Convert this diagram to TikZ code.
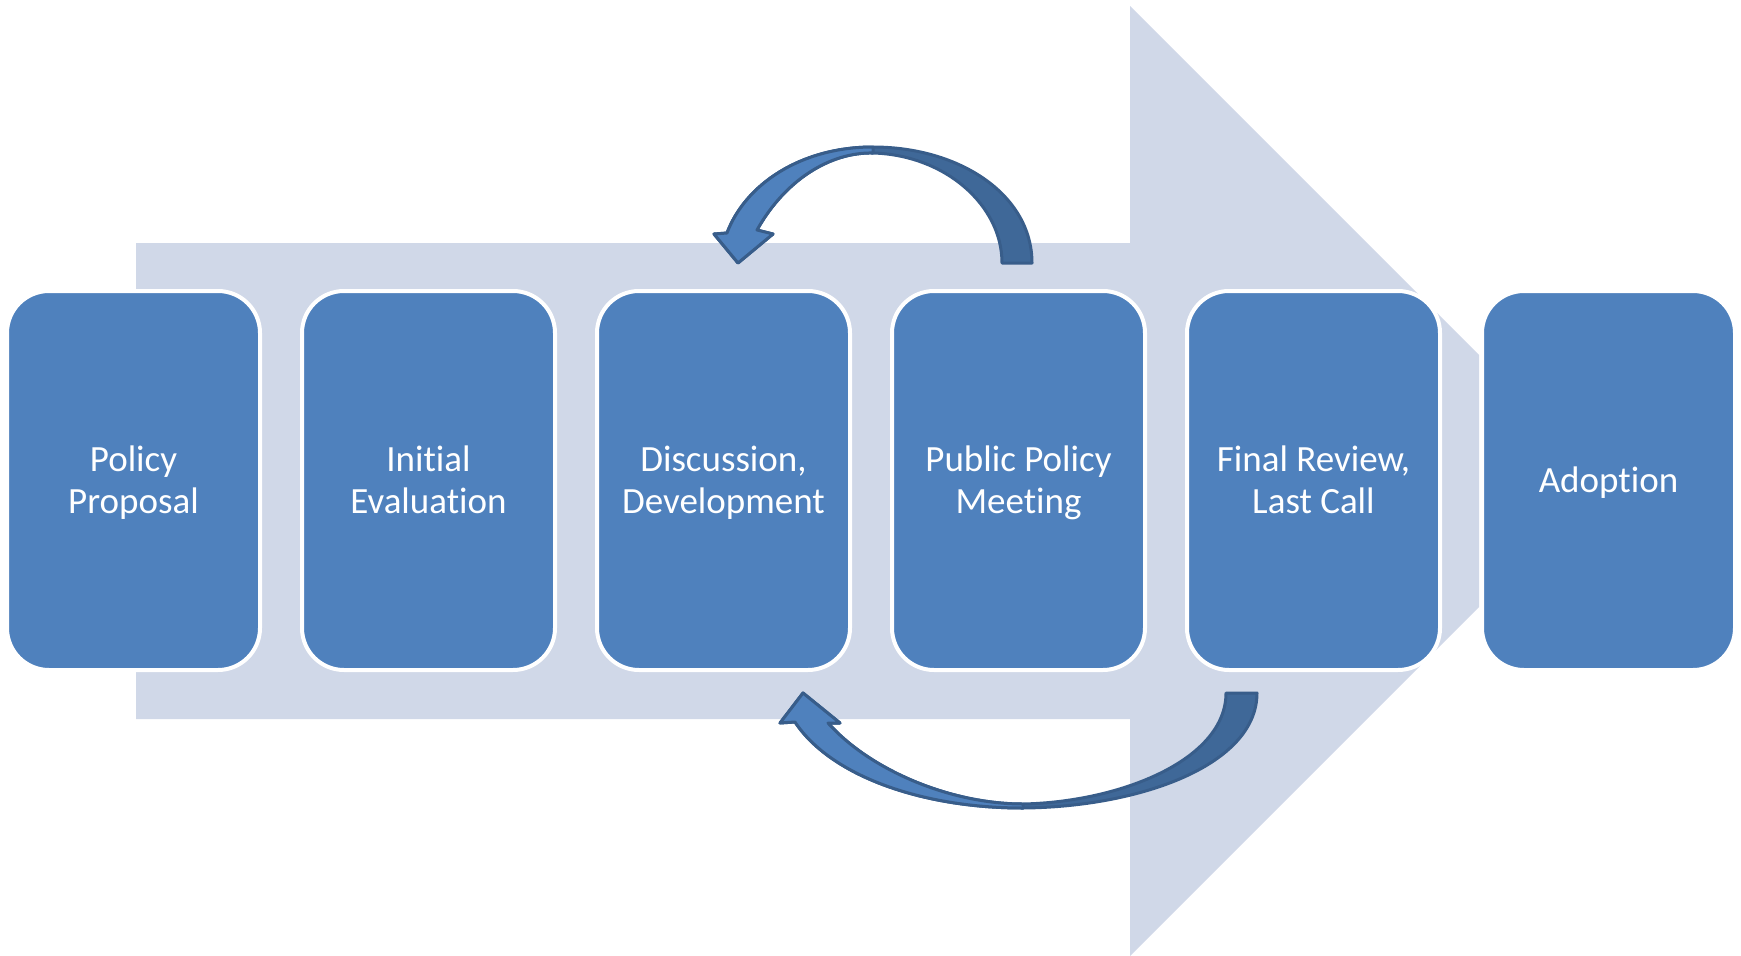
\documentclass[tikz,border=0pt]{standalone}
\usepackage{fontspec}
\setmainfont[Ligatures=NoCommon]{Carlito}
\usepackage{tikz}
\usetikzlibrary{arrows,positioning,shapes.geometric}
\definecolor{stepblue}{HTML}{4F81BD}
\definecolor{flowgray}{HTML}{D0D8E8}
\definecolor{loopdark}{HTML}{3F6898}
\definecolor{loopline}{HTML}{385D8A}
\newcommand{\stagestrut}{\rule[-9.5pt]{0pt}{42pt}}

\begin{document}
\begin{tikzpicture}[
    x=1pt, y=-1pt,
    node distance=295pt,
    font=\fontsize{37}{42}\selectfont,
    stage/.style={
		rectangle,
		rounded corners=42pt,
		draw=white,
		line width=4pt,
		fill=stepblue,
		text=white,
		align=center,
		minimum width=253pt,
		minimum height=379pt
	},
	backloop/.style={
		draw=loopline,
		line width=3pt,
		line join=round
	}
  ]
  \useasboundingbox (0,0) rectangle (1741,956);

    % the big arrow behind the steps
  \fill [flowgray] (136,243) -- (1130,243) -- (1130,6) -- (1479,355)
        -- (1479,607) -- (1130,956) -- (1130,719) -- (136,719) -- cycle;

    % We start by placing the blocks
  \node [stage] (proposal) at (133.5,480.5) {\stagestrut Policy\\\stagestrut Proposal};
  \node [stage, right of=proposal] (evaluation) {\stagestrut Initial\\\stagestrut Evaluation};
  \node [stage, right of=evaluation] (discussion) {\stagestrut Discussion,\\\stagestrut Development};
  \node [stage, right of=discussion] (meeting) {\stagestrut Public Policy\\\stagestrut Meeting};
  \node [stage, right of=meeting] (review) {\stagestrut Final Review,\\\stagestrut Last Call};
  \node [stage, right of=review] (adoption) {\stagestrut Adoption};

    % loop back from the meeting
  \filldraw [backloop, fill=loopdark] (1032,263) .. controls (1032,195) and (960,147) .. (873,147)
        .. controls (800,147) and (745,185) .. (727,233)
        -- (714,234) -- (738,263) -- (773,234) -- (757,230)
        .. controls (785,180) and (830,152) .. (873,153)
        .. controls (945,155) and (1002,205) .. (1002,263) -- cycle;
  \filldraw [backloop, fill=stepblue] (873,147)
        .. controls (800,147) and (745,185) .. (727,233)
        -- (714,234) -- (738,263) -- (773,234) -- (757,230)
        .. controls (785,180) and (830,152) .. (873,153) -- cycle;

    % loop back from the final review
  \filldraw [backloop, fill=loopdark] (1257,693) .. controls (1257,765) and (1140,807) .. (1023,808)
        .. controls (920,808) and (830,775) .. (795,722)
        -- (780,723) -- (803,693) -- (840,723) -- (828,723)
        .. controls (870,770) and (950,804) .. (1023,804)
        .. controls (1120,802) and (1226,760) .. (1226,693) -- cycle;
  \filldraw [backloop, fill=stepblue] (1023,808)
        .. controls (920,808) and (830,775) .. (795,722)
        -- (780,723) -- (803,693) -- (840,723) -- (828,723)
        .. controls (870,770) and (950,804) .. (1023,804) -- cycle;

\end{tikzpicture}
\end{document}
